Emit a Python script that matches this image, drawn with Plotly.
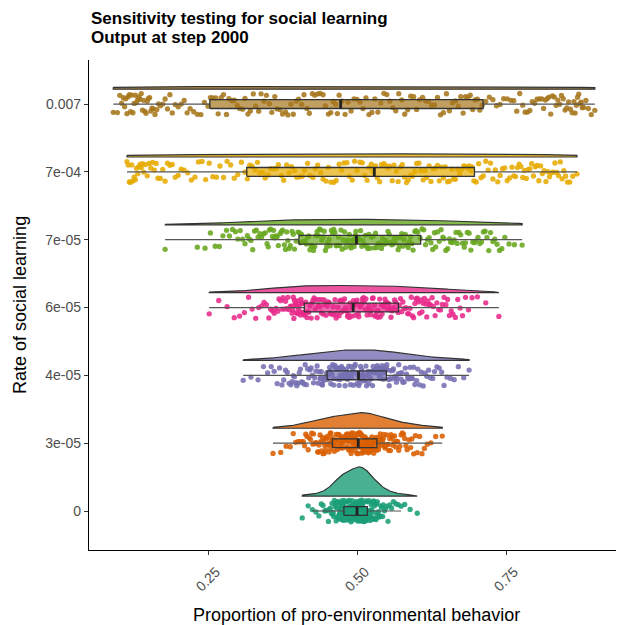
import numpy as np
import plotly.graph_objects as go

# Rate-of-social-learning levels (bottom to top) and their colours
levels = ["0", "3e-05", "4e-05", "6e-05", "7e-05", "7e-04", "0.007"]
colors = ["#1B9E77", "#D95F02", "#7570B3", "#E7298A", "#66A61E", "#E6AB02", "#A6761D"]

# Proportion of pro-environmental behaviour at step 2000 (per mille), one list per level
prop_0 = [
    408, 418, 425, 431, 436, 440, 443, 446, 448, 450, 452, 454, 455, 457, 458, 459, 460, 461, 462, 463,
    464, 465, 465, 466, 467, 467, 468, 469, 469, 470, 470, 471, 471, 472, 472, 473, 473, 474, 474, 474,
    475, 475, 475, 476, 476, 476, 477, 477, 477, 478, 478, 479, 479, 480, 480, 481, 481, 482, 482, 483,
    483, 484, 484, 485, 485, 486, 486, 487, 487, 488, 488, 489, 489, 490, 490, 491, 491, 492, 492, 493,
    493, 494, 494, 495, 495, 496, 496, 497, 497, 497, 498, 498, 498, 499, 499, 499, 500, 500, 500, 500,
    500, 501, 501, 501, 502, 502, 502, 503, 503, 503, 504, 504, 504, 505, 505, 505, 506, 506, 506, 507,
    507, 507, 508, 508, 508, 509, 509, 509, 510, 510, 510, 511, 511, 511, 512, 512, 512, 513, 513, 513,
    514, 514, 514, 515, 515, 515, 516, 516, 517, 517, 518, 518, 519, 519, 520, 520, 521, 521, 522, 522,
    523, 523, 524, 524, 525, 525, 526, 527, 527, 528, 529, 529, 530, 531, 532, 532, 533, 534, 535, 536,
    537, 538, 539, 540, 541, 543, 544, 546, 548, 550, 552, 555, 558, 561, 565, 569, 574, 580, 589, 601,
]
prop_3e05 = [
    359, 372, 381, 388, 393, 397, 401, 404, 407, 410, 412, 414, 416, 418, 420, 422, 424, 426, 427, 429,
    431, 432, 434, 435, 436, 438, 439, 440, 441, 442, 443, 444, 445, 446, 447, 448, 449, 450, 450, 451,
    452, 452, 453, 454, 454, 455, 456, 456, 457, 458, 459, 460, 461, 462, 463, 464, 465, 466, 467, 468,
    469, 470, 471, 472, 473, 474, 475, 476, 477, 478, 479, 480, 481, 482, 483, 484, 485, 486, 486, 487,
    488, 489, 490, 490, 491, 492, 493, 494, 494, 495, 496, 497, 497, 498, 499, 499, 500, 501, 501, 502,
    502, 503, 503, 504, 504, 505, 505, 506, 507, 507, 508, 508, 509, 510, 510, 511, 511, 512, 512, 513,
    513, 514, 514, 515, 515, 516, 516, 517, 517, 518, 518, 519, 520, 520, 521, 522, 523, 523, 524, 525,
    526, 526, 527, 528, 529, 530, 530, 531, 532, 533, 534, 535, 536, 537, 538, 539, 540, 541, 542, 543,
    544, 545, 546, 547, 548, 550, 551, 552, 553, 555, 556, 557, 559, 560, 562, 563, 565, 566, 568, 570,
    572, 574, 576, 578, 580, 582, 584, 587, 590, 592, 595, 598, 601, 605, 609, 613, 618, 624, 632, 643,
]
prop_4e05 = [
    309, 322, 334, 343, 350, 356, 361, 366, 370, 374, 377, 380, 383, 386, 389, 391, 393, 395, 397, 399,
    401, 403, 405, 407, 409, 411, 413, 415, 417, 419, 421, 423, 425, 427, 429, 431, 433, 435, 437, 438,
    439, 440, 441, 442, 443, 444, 445, 446, 448, 449, 450, 451, 452, 453, 454, 455, 456, 457, 458, 459,
    460, 461, 462, 463, 464, 465, 466, 467, 468, 469, 470, 471, 472, 473, 474, 475, 476, 477, 478, 479,
    480, 481, 482, 483, 484, 485, 486, 487, 488, 489, 490, 491, 492, 493, 494, 496, 497, 499, 500, 502,
    503, 504, 505, 506, 507, 508, 509, 510, 511, 512, 513, 514, 515, 516, 517, 518, 519, 520, 521, 522,
    523, 524, 525, 526, 527, 528, 529, 530, 531, 532, 533, 534, 535, 536, 537, 538, 539, 540, 541, 542,
    543, 544, 544, 545, 546, 546, 547, 548, 548, 549, 550, 551, 553, 554, 555, 557, 558, 560, 561, 563,
    564, 566, 567, 569, 570, 572, 574, 575, 577, 579, 581, 583, 585, 587, 589, 591, 593, 595, 597, 600,
    602, 605, 608, 611, 614, 617, 620, 623, 627, 630, 634, 638, 642, 646, 651, 657, 663, 670, 679, 688,
]
prop_6e05 = [
    252, 268, 282, 294, 303, 311, 318, 324, 330, 335, 340, 344, 348, 352, 355, 358, 361, 364, 367, 369,
    372, 374, 376, 378, 380, 382, 384, 386, 388, 390, 391, 392, 393, 394, 395, 396, 397, 398, 399, 400,
    401, 402, 403, 404, 405, 406, 407, 408, 409, 410, 412, 414, 416, 417, 419, 421, 423, 424, 426, 428,
    430, 431, 433, 435, 436, 438, 440, 441, 443, 445, 446, 448, 450, 451, 453, 455, 456, 458, 460, 461,
    463, 465, 466, 468, 470, 471, 473, 474, 476, 478, 479, 481, 482, 484, 485, 487, 488, 490, 491, 493,
    494, 496, 497, 499, 500, 502, 503, 505, 506, 508, 509, 511, 512, 514, 515, 517, 518, 520, 521, 523,
    524, 526, 527, 529, 530, 532, 533, 535, 536, 538, 539, 541, 542, 544, 545, 547, 548, 550, 551, 553,
    554, 556, 557, 559, 560, 562, 563, 565, 567, 569, 571, 573, 575, 577, 579, 581, 583, 585, 587, 589,
    591, 593, 595, 597, 599, 601, 603, 605, 607, 609, 611, 613, 615, 617, 619, 621, 623, 626, 628, 631,
    634, 637, 640, 643, 646, 649, 652, 655, 658, 661, 665, 669, 673, 677, 682, 687, 693, 702, 716, 738,
]
prop_7e05 = [
    178, 232, 245, 254, 262, 269, 275, 281, 286, 291, 296, 300, 304, 308, 312, 316, 319, 322, 325, 328,
    331, 334, 337, 340, 343, 346, 349, 351, 353, 355, 358, 360, 362, 364, 366, 368, 371, 373, 375, 378,
    380, 382, 384, 386, 388, 391, 393, 395, 398, 401, 403, 405, 407, 409, 411, 413, 415, 417, 419, 421,
    423, 425, 427, 429, 431, 433, 435, 437, 439, 441, 443, 445, 447, 449, 451, 453, 455, 457, 459, 461,
    463, 465, 467, 469, 471, 473, 475, 477, 479, 481, 483, 485, 487, 489, 490, 492, 494, 495, 497, 498,
    500, 502, 504, 506, 508, 510, 512, 514, 516, 518, 520, 522, 524, 527, 529, 531, 533, 535, 537, 539,
    541, 543, 545, 548, 550, 552, 554, 556, 558, 560, 562, 564, 567, 569, 571, 573, 575, 577, 579, 581,
    584, 586, 588, 590, 592, 594, 597, 599, 602, 606, 609, 612, 615, 618, 621, 624, 627, 630, 632, 635,
    638, 641, 644, 646, 649, 652, 655, 657, 660, 663, 666, 668, 671, 674, 677, 680, 682, 685, 688, 691,
    694, 697, 700, 703, 706, 709, 712, 715, 718, 721, 724, 728, 731, 735, 739, 743, 748, 755, 764, 777,
]
prop_7e04 = [
    114, 116, 118, 120, 122, 124, 126, 128, 130, 132, 134, 136, 138, 140, 142, 145, 148, 151, 154, 157,
    160, 163, 166, 170, 174, 178, 182, 186, 190, 195, 200, 205, 210, 216, 222, 228, 234, 240, 246, 252,
    258, 264, 270, 276, 282, 288, 294, 300, 306, 312, 316, 320, 324, 329, 333, 337, 342, 346, 351, 355,
    360, 364, 368, 373, 377, 382, 386, 390, 395, 399, 404, 408, 412, 417, 421, 426, 430, 434, 439, 443,
    448, 452, 456, 461, 465, 470, 474, 478, 483, 487, 492, 496, 500, 505, 509, 513, 517, 520, 524, 527,
    531, 534, 538, 541, 545, 548, 552, 555, 559, 562, 566, 569, 573, 576, 580, 583, 586, 590, 593, 597,
    600, 604, 607, 611, 614, 617, 621, 624, 628, 631, 635, 638, 641, 645, 648, 652, 655, 659, 662, 665,
    669, 672, 675, 679, 682, 685, 688, 691, 693, 696, 700, 704, 708, 712, 716, 720, 724, 728, 732, 736,
    740, 744, 748, 752, 756, 760, 763, 766, 769, 772, 775, 778, 781, 784, 787, 790, 793, 796, 799, 802,
    805, 808, 811, 814, 817, 820, 823, 826, 829, 832, 835, 838, 841, 844, 847, 850, 853, 857, 862, 869,
]
prop_0007 = [
    91, 98, 102, 105, 108, 110, 112, 114, 116, 118, 120, 122, 124, 126, 128, 130, 132, 134, 136, 138,
    140, 142, 144, 146, 148, 150, 152, 154, 156, 158, 161, 164, 167, 170, 174, 178, 182, 186, 190, 195,
    200, 205, 210, 215, 220, 226, 232, 238, 244, 250, 254, 258, 263, 267, 272, 276, 281, 285, 290, 294,
    299, 303, 308, 312, 317, 321, 326, 330, 335, 339, 344, 348, 353, 357, 362, 366, 371, 375, 380, 384,
    389, 393, 398, 402, 407, 411, 416, 420, 425, 429, 434, 438, 443, 447, 452, 456, 460, 464, 467, 470,
    475, 480, 485, 490, 495, 500, 505, 510, 515, 520, 525, 530, 535, 540, 545, 550, 555, 560, 565, 570,
    575, 580, 585, 590, 595, 600, 605, 610, 615, 620, 625, 630, 635, 640, 645, 650, 655, 660, 665, 670,
    674, 678, 682, 686, 690, 694, 698, 702, 706, 710, 716, 722, 728, 734, 740, 746, 752, 758, 763, 768,
    773, 778, 782, 786, 790, 794, 798, 802, 806, 810, 813, 816, 819, 822, 825, 828, 831, 834, 837, 840,
    843, 846, 849, 852, 855, 858, 861, 864, 866, 868, 870, 872, 874, 876, 878, 880, 884, 888, 893, 899,
]

groups = [prop_0, prop_3e05, prop_4e05, prop_6e05, prop_7e05, prop_7e04, prop_0007]
data = [np.array(g, dtype=float) / 1000.0 for g in groups]

TITLE_1 = "Sensitivity testing for social learning"
TITLE_2 = "Output at step 2000"
X_TITLE = "Proportion of pro-environmental behavior"
Y_TITLE = "Rate of social learning"


def rgba(hex_color, alpha):
    h = hex_color.lstrip("#")
    r, g, b = int(h[0:2], 16), int(h[2:4], 16), int(h[4:6], 16)
    return f"rgba({r},{g},{b},{alpha})"


def kde(values, grid, adjust=1.3):
    # Gaussian kernel density, bandwidth from R's bw.nrd0 times an adjust factor
    n = len(values)
    sd = values.std(ddof=1)
    q1, q3 = np.percentile(values, [25, 75])
    bw = adjust * 0.9 * min(sd, (q3 - q1) / 1.34) * n ** (-0.2)
    z = (grid[:, None] - values[None, :]) / bw
    return np.exp(-0.5 * z ** 2).sum(axis=1) / (n * bw * np.sqrt(2 * np.pi))


def jitter(n, seed):
    # deterministic scatter offsets in [-1, 1]
    k = np.arange(n, dtype=float)
    s = np.sin(k * 12.9898 + seed * 78.233) * 43758.5453
    return (s - np.floor(s)) * 2 - 1


SLAB_OFFSET = 0.22     # baseline of each half-density above its row
SLAB_MAX = 0.43        # height of the tallest density (row units)
JITTER = 0.16          # half-height of the point cloud
BOX_W = 0.13
LINE_DARK = "#333333"

grids, dens = [], []
for v in data:
    g = np.linspace(v.min(), v.max(), 300)
    grids.append(g)
    dens.append(kde(v, g))
scale = SLAB_MAX / max(d.max() for d in dens)

fig = go.Figure()

for i, (v, col) in enumerate(zip(data, colors)):
    base = i + SLAB_OFFSET
    g, d = grids[i], dens[i]

    # half-eye density slab
    xs = np.concatenate([g, g[::-1], g[:1]])
    ys = np.concatenate([base + d * scale, np.full(len(g), base), [base + d[0] * scale]])
    fig.add_trace(go.Scatter(
        x=xs, y=ys, mode="lines", fill="toself",
        fillcolor=rgba(col, 0.8), line=dict(color=LINE_DARK, width=1.2),
        hoverinfo="skip", showlegend=False,
    ))

    # jittered raw observations
    fig.add_trace(go.Scatter(
        x=v, y=i + jitter(len(v), i + 1) * JITTER, mode="markers",
        marker=dict(color=col, size=5.3, opacity=0.88, line=dict(width=0)),
        hoverinfo="skip", showlegend=False,
    ))

    # Tukey boxplot: whiskers to the furthest points within 1.5 IQR
    q1, med, q3 = np.percentile(v, [25, 50, 75])
    iqr = q3 - q1
    lo = v[v >= q1 - 1.5 * iqr].min()
    hi = v[v <= q3 + 1.5 * iqr].max()
    fig.add_trace(go.Scatter(
        x=[lo, q1, None, q3, hi], y=[i, i, None, i, i], mode="lines",
        line=dict(color="#555555", width=1.2),
        hoverinfo="skip", showlegend=False,
    ))
    h = BOX_W / 2
    fig.add_trace(go.Scatter(
        x=[q1, q3, q3, q1, q1], y=[i - h, i - h, i + h, i + h, i - h],
        mode="lines", fill="toself", fillcolor=rgba(col, 0.7),
        line=dict(color=LINE_DARK, width=1.3),
        hoverinfo="skip", showlegend=False,
    ))
    fig.add_trace(go.Scatter(
        x=[med, med], y=[i - h, i + h], mode="lines",
        line=dict(color="#222222", width=2.8),
        hoverinfo="skip", showlegend=False,
    ))

axis_common = dict(
    showline=True, linecolor="black", linewidth=1.4, mirror=False,
    ticks="outside", ticklen=4, tickwidth=1.1, tickcolor="#333333",
    showgrid=False, zeroline=False,
    tickfont=dict(family="Liberation Sans, Arial, sans-serif", size=14, color="#4d4d4d"),
)

fig.update_layout(
    width=618, height=625,
    margin=dict(l=89, r=2, t=60, b=75),
    paper_bgcolor="white", plot_bgcolor="white",
    font=dict(family="Liberation Sans, Arial, sans-serif"),
    xaxis=dict(
        range=[0.0503, 0.9345],
        tickvals=[0.25, 0.50, 0.75], ticktext=["0.25", "0.50", "0.75"],
        tickangle=-45, ticklabelshift=8, ticklabelstandoff=3, **axis_common,
    ),
    yaxis=dict(
        range=[-0.575, 6.65],
        tickvals=list(range(len(levels))), ticktext=levels,
        **axis_common,
    ),
    annotations=[
        dict(text=f"<b>{TITLE_1}</b>", xref="paper", yref="paper", x=0, y=1.0837,
             xanchor="left", yanchor="middle", showarrow=False,
             font=dict(size=17, color="black")),
        dict(text=f"<b>{TITLE_2}</b>", xref="paper", yref="paper", x=0, y=1.0469,
             xanchor="left", yanchor="middle", showarrow=False,
             font=dict(size=17, color="black")),
        dict(text=X_TITLE, xref="paper", yref="paper", x=0.507, y=-0.132,
             xanchor="center", yanchor="middle", showarrow=False,
             font=dict(size=18, color="black")),
        dict(text=Y_TITLE, xref="paper", yref="paper", x=-0.131, y=0.5,
             xanchor="center", yanchor="middle", showarrow=False, textangle=-90,
             font=dict(size=18, color="black")),
    ],
)

fig.write_html("out.html")
